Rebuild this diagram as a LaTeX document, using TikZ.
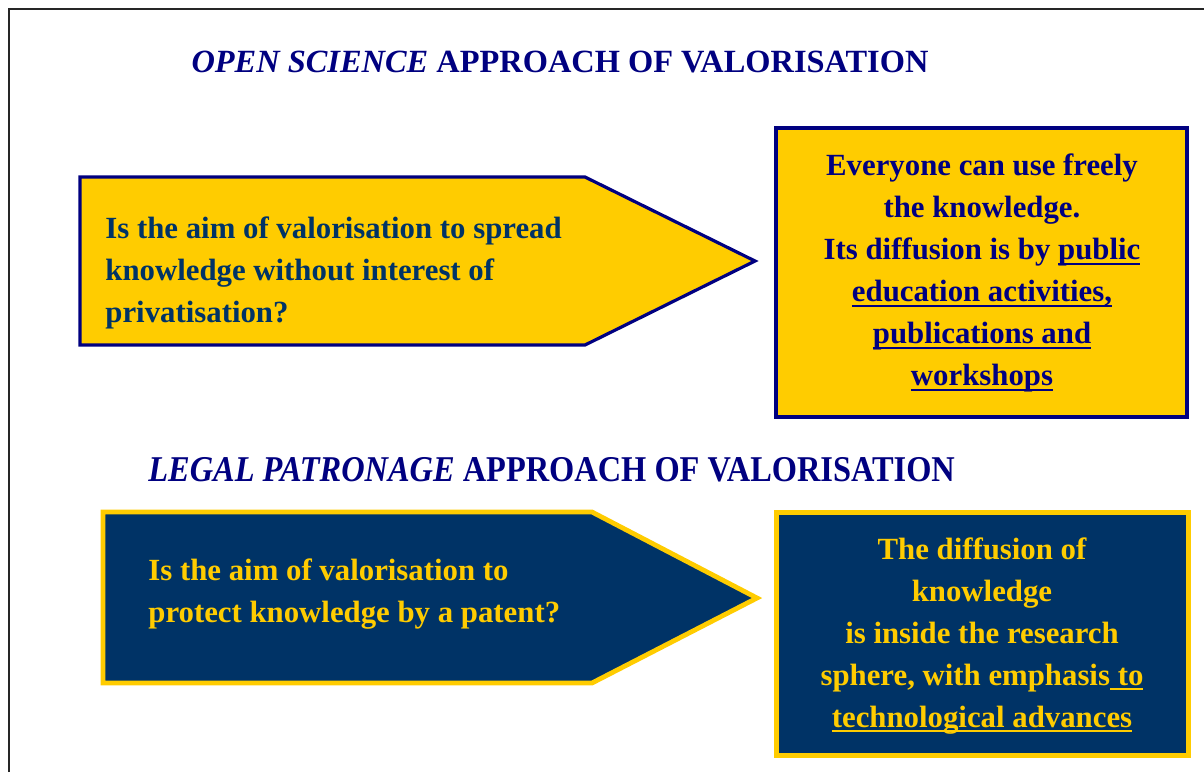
\documentclass[tikz,border=0pt]{standalone}
\usepackage{fontspec}
\setmainfont{Liberation Serif}
\definecolor{navy}{RGB}{0,0,128}
\definecolor{gold}{RGB}{255,204,0}
\definecolor{deepblue}{RGB}{0,51,102}
\newcommand\myul[1]{\setbox0\hbox{#1}\rlap{\rule[-0.16em]{\wd0}{0.065em}}\box0}
\tikzset{
  titletext/.style={text=navy, font=\fontsize{16.2}{20}\selectfont\bfseries, inner sep=0pt},
  bodytext/.style={font=\fontsize{15.4}{21}\selectfont\bfseries, inner sep=0pt},
  yellowbox/.style={draw=navy, fill=gold, line width=2pt},
  bluebox/.style={draw=gold, fill=deepblue, line width=2.5pt},
}
\begin{document}
\begin{tikzpicture}[x=0.5pt,y=-0.5pt]
\useasboundingbox (0,0) rectangle (1204,772);
% frame
\draw[line width=1.3pt, black!85] (9,772) -- (9,9) -- (1204,9);
% titles
\node[titletext] (t1) at (560,62) {\textit{OPEN SCIENCE} APPROACH OF VALORISATION};
\node[titletext, anchor=west] (t2) at (148,470) {\scalebox{1.0}[1.12]{\textit{LEGAL PATRONAGE} APPROACH OF VALORISATION}};
% pentagon 1
\coordinate (p1a) at (80,177);
\coordinate (p1b) at (585,177);
\coordinate (p1c) at (755,261);
\coordinate (p1d) at (585,345);
\coordinate (p1e) at (80,345);
\filldraw[draw=navy, fill=gold, line width=1.6pt] (p1a) -- (p1b) -- (p1c) -- (p1d) -- (p1e) -- cycle;
\node[bodytext, text=deepblue, anchor=west, align=left] (q1) at (105,273)
  {Is the aim of valorisation to spread\\knowledge without interest of\\privatisation?};
% box 1
\node[yellowbox, minimum width=205.5pt, minimum height=144.5pt] (a1) at (981.5,272.5) {};
\node[bodytext, text=navy, align=center] (a1t) at (982,273)
  {Everyone can use freely\\the knowledge.\\Its diffusion is by \myul{public}\\\myul{education activities,}\\\myul{publications and}\\\myul{workshops}};
% pentagon 2
\coordinate (p2a) at (103,512);
\coordinate (p2b) at (592,512);
\coordinate (p2c) at (757,598);
\coordinate (p2d) at (592,683);
\coordinate (p2e) at (103,683);
\filldraw[draw=gold, fill=deepblue, line width=2.4pt] (p2a) -- (p2b) -- (p2c) -- (p2d) -- (p2e) -- cycle;
\node[bodytext, text=gold, anchor=west, align=left] (q2) at (148,594)
  {Is the aim of valorisation to\\protect knowledge by a patent?};
% box 2
\node[bluebox, minimum width=206pt, minimum height=121.5pt] (a2) at (982,633.5) {};
\node[bodytext, text=gold, align=center] (a2t) at (982,636)
  {The diffusion of\\knowledge\\is inside the research\\sphere, with emphasis\myul{ to}\\\myul{technological advances}};
\end{tikzpicture}
\end{document}
